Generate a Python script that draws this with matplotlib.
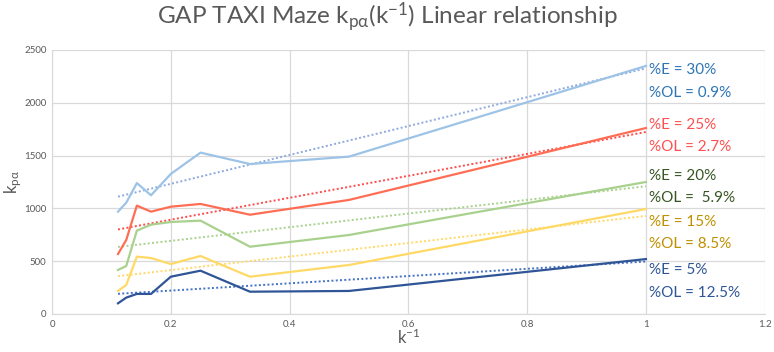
import numpy as np
import matplotlib
matplotlib.use("Agg")
import matplotlib.pyplot as plt

plt.rcParams['font.family'] = ['Lato', 'DejaVu Sans']
plt.rcParams['mathtext.default'] = 'regular'

x = [1/9, 1/8, 1/7, 1/6, 1/5, 1/4, 1/3, 1/2, 1.0]
s30 = [969, 1054, 1240, 1124, 1326, 1528, 1420, 1490, 2349]
s25 = [568, 701, 1026, 969, 1016, 1042, 940, 1080, 1761]
s20 = [417, 455, 789, 846, 871, 884, 637, 748, 1250]
s15 = [218, 275, 543, 530, 473, 549, 353, 464, 994]
s5 = [101, 155, 190, 190, 353, 410, 211, 218, 520]

series = [s30, s25, s20, s15, s5]
line_colors = ['#9DC3E6', '#FF6E54', '#A9D18E', '#FFD966', '#2F5597']
trend_colors = ['#8FAADC', '#FF4B4B', '#A9D18E', '#FFD966', '#4472C4']
labels = [("%E = 30%", "%OL = 0.9%"), ("%E = 25%", "%OL = 2.7%"),
          ("%E = 20%", "%OL =  5.9%"), ("%E = 15%", "%OL = 8.5%"),
          ("%E = 5%", "%OL = 12.5%")]
label_colors = ['#2E75B6', '#FF5050', '#375623', '#BF9000', '#2F5597']
label_y = [(2311, 2093), (1790, 1581), (1307, 1099), (871, 663), (417, 199)]

fig = plt.figure(figsize=(7.74, 3.52), dpi=100)
ax = fig.add_axes([0.0672, 0.108, 0.9208, 0.750])

xa = np.array(x)
for ys, lc, tc in zip(series, line_colors, trend_colors):
    ax.plot(x, ys, color=lc, lw=1.6, zorder=3)
    p = np.polyfit(xa, np.array(ys), 1)
    xt = np.array([x[0], x[-1]])
    ax.plot(xt, np.polyval(p, xt), color=tc, lw=1.4, ls=(0, (1, 1.2)), zorder=2)

for (l1, l2), c, (y1, y2) in zip(labels, label_colors, label_y):
    ax.text(1.005, y1, l1, color=c, fontsize=11, va='center', ha='left')
    ax.text(1.005, y2, l2, color=c, fontsize=11, va='center', ha='left')

ax.set_xlim(0, 1.2)
ax.set_ylim(0, 2500)
ax.set_xticks([0, 0.2, 0.4, 0.6, 0.8, 1.0, 1.2])
ax.set_xticklabels(["0", "0.2", "0.4", "0.6", "0.8", "1", "1.2"])
ax.set_yticks([0, 500, 1000, 1500, 2000, 2500])
ax.grid(True, color='#D9D9D9', lw=0.9)
ax.set_axisbelow(True)
for sp in ['top', 'right']:
    ax.spines[sp].set_visible(False)
for sp in ['left', 'bottom']:
    ax.spines[sp].set_color('#D9D9D9')
ax.tick_params(length=0, labelsize=7, colors='#595959', pad=4)

ax.set_xlabel(r"k$^{-1}$", fontsize=12, color='#595959', labelpad=-1)
ax.set_ylabel(r"k$_{p\alpha}$", fontsize=12, color='#595959', labelpad=0)
ax.yaxis.set_label_coords(-0.040, 0.5)

fig.text(0.5, 0.95, r"GAP TAXI Maze k$_{p\alpha}$(k$^{-1}$) Linear relationship",
         ha='center', va='center', fontsize=17.5, color='#595959')

fig.savefig("out.png", dpi=100)
